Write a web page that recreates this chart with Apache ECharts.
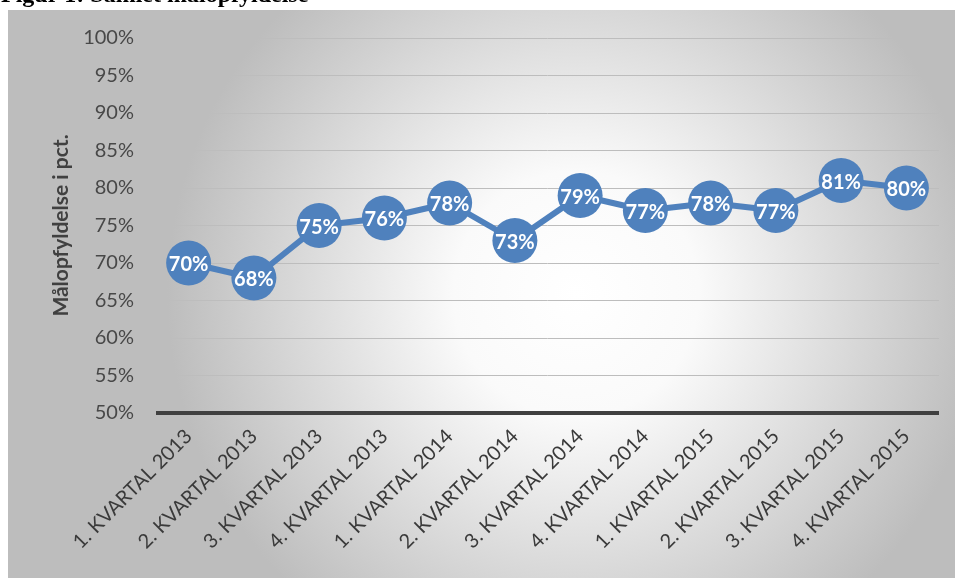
<!DOCTYPE html>
<html><head><meta charset="utf-8">
<script src="https://cdn.jsdelivr.net/npm/echarts@6/dist/echarts.min.js"></script>
<style>html,body{margin:0;padding:0;background:#fff;}#c{width:955px;height:578px;}</style>
</head><body><div id="c"></div>
<script>
const categories = ['1. KVARTAL 2013','2. KVARTAL 2013','3. KVARTAL 2013','4. KVARTAL 2013','1. KVARTAL 2014','2. KVARTAL 2014','3. KVARTAL 2014','4. KVARTAL 2014','1. KVARTAL 2015','2. KVARTAL 2015','3. KVARTAL 2015','4. KVARTAL 2015'];
const values = [70,68,75,76,78,73,79,77,78,77,81,80];
const titleText = 'Figur 1: Samlet målopfyldelse';
const yName = 'Målopfyldelse i pct.';

const chart = echarts.init(document.getElementById('c'), null, {renderer:'canvas'});
chart.setOption({
  animation:false,
  graphic:[
    {type:'rect', z:-10, shape:{x:8,y:10,width:947,height:568},
     style:{fill:{type:'radial',x:0.6,y:0.5,r:0.72,colorStops:[{offset:0,color:'#ffffff'},{offset:0.3,color:'#fafafa'},{offset:1,color:'#bdbdbd'}]}}},
    {type:'text', left:1, top:-16, style:{text:titleText, font:'bold 24px "Liberation Serif"', fill:'#000'}}
  ],
  grid:{left:156,right:16,top:38,bottom:165},
  xAxis:{type:'category',data:categories,boundaryGap:true,
    axisLine:{show:false},axisTick:{show:false},
    axisLabel:{rotate:45,interval:0,color:'#3a3a3a',fontSize:20,fontFamily:'Lato',margin:20}},
  yAxis:{type:'value',min:50,max:100,interval:5,
    name:yName,nameLocation:'middle',nameGap:84,
    nameTextStyle:{fontSize:21,fontWeight:'bold',color:'#404040',fontFamily:'Lato'},
    axisLabel:{formatter:'{value}%',color:'#484848',fontSize:20,fontFamily:'Lato',margin:22},
    axisLine:{show:false},axisTick:{show:false},
    splitLine:{lineStyle:{color:'#bdbdbd',width:1}}},
  series:[
    {type:'line',data:values,symbol:'circle',symbolSize:45,
     lineStyle:{color:'#4f81bd',width:6},
     itemStyle:{color:'#4f81bd'},
     label:{show:true,position:'inside',offset:[0,2],formatter:'{c}%',color:'#fff',fontSize:20,fontWeight:'bold',fontFamily:'Lato'},
     markLine:{silent:true,symbol:'none',label:{show:false},
       lineStyle:{color:'#404040',width:4,type:'solid'},data:[{yAxis:50}]}}
  ]
});
</script></body></html>
